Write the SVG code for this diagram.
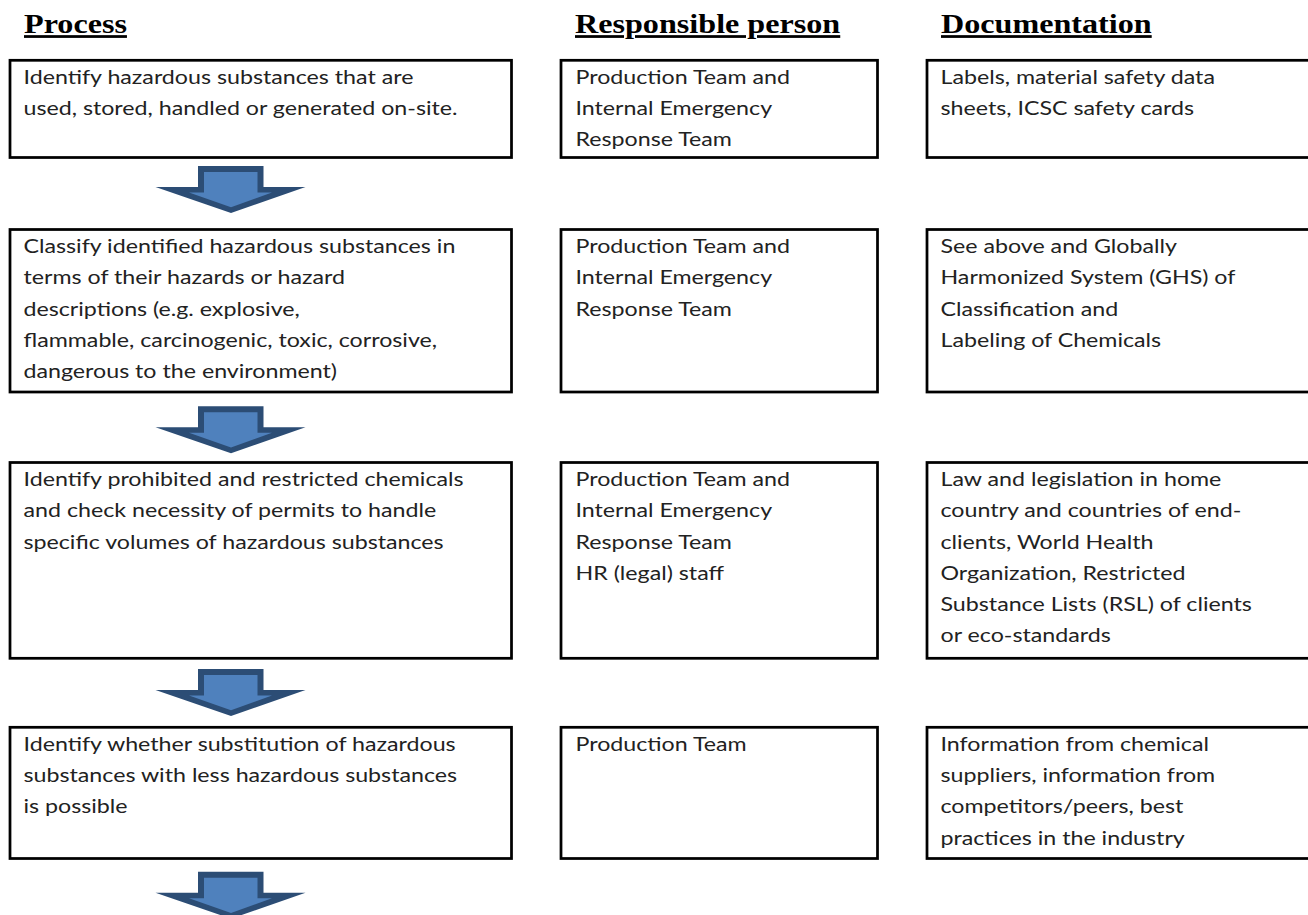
<svg xmlns="http://www.w3.org/2000/svg" xmlns:xlink="http://www.w3.org/1999/xlink" width="1308" height="915" viewBox="0 0 1308 915">
  <style>
    .hdr { font-family: "Liberation Serif", "Times New Roman", serif; font-weight: bold; font-size: 27.6px; fill: #000; text-decoration: underline; }
    .box { fill: #fff; stroke: #000; stroke-width: 2.75; }
    .txt { font-family: Lato, "Open Sans", "Liberation Sans", sans-serif; font-size: 19.5px; fill: #222; }
    .arrow-edge { fill: #2c4d75; }
    .arrow-body { fill: #4f81bd; }
  </style>
  <defs>
    <!-- block arrow pointing down; origin at top of stem -->
    <g id="downArrow">
      <polygon class="arrow-edge" points="198,0 263.5,0 263.5,21 305.5,21 231,47 155.5,21 198,21"/>
      <polygon class="arrow-body" points="204,6 257.5,6 257.5,26.5 272,26.5 231,41.3 189,26.5 204,26.5"/>
    </g>
  </defs>

  <rect width="1308" height="915" fill="#fff"/>

  <!-- column headings -->
  <g id="headings">
    <g transform="translate(24 33.3) scale(1.165 1)"><text class="hdr" x="0" y="0">Process</text></g>
    <g transform="translate(575 33.3) scale(1.165 1)"><text class="hdr" x="0" y="0">Responsible person</text></g>
    <g transform="translate(941 33.3) scale(1.165 1)"><text class="hdr" x="0" y="0">Documentation</text></g>
  </g>

  <!-- flow arrows between process steps -->
  <g id="connectors">
    <use xlink:href="#downArrow" x="0" y="166"/>
    <use xlink:href="#downArrow" x="0" y="406.3"/>
    <use xlink:href="#downArrow" x="0" y="669"/>
    <use xlink:href="#downArrow" x="0" y="871.7"/>
  </g>

  <!-- row 1 -->
  <g id="step1-process">
    <rect class="box" x="10" y="60.3" width="501.5" height="97.2"/>
    <g transform="translate(23.5 0) scale(1.19 1)">
      <text class="txt" x="0" y="83.8">Identify hazardous substances that are</text>
      <text class="txt" x="0" y="115.1">used, stored, handled or generated on-site.</text>
    </g>
  </g>
  <g id="step1-person">
    <rect class="box" x="561" y="60.3" width="316.5" height="97.2"/>
    <g transform="translate(575.5 0) scale(1.19 1)">
      <text class="txt" x="0" y="83.8">Production Team and</text>
      <text class="txt" x="0" y="115.1">Internal Emergency</text>
      <text class="txt" x="0" y="146.4">Response Team</text>
    </g>
  </g>
  <g id="step1-docs">
    <rect class="box" x="927" y="60.3" width="400" height="97.2"/>
    <g transform="translate(940.5 0) scale(1.19 1)">
      <text class="txt" x="0" y="83.8">Labels, material safety data</text>
      <text class="txt" x="0" y="115.1">sheets, ICSC safety cards</text>
    </g>
  </g>

  <!-- row 2 -->
  <g id="step2-process">
    <rect class="box" x="10" y="229.5" width="501.5" height="162.5"/>
    <g transform="translate(23.5 0) scale(1.19 1)">
      <text class="txt" x="0" y="253">Classify identified hazardous substances in</text>
      <text class="txt" x="0" y="284.3">terms of their hazards or hazard</text>
      <text class="txt" x="0" y="315.6">descriptions (e.g. explosive,</text>
      <text class="txt" x="0" y="346.9">flammable, carcinogenic, toxic, corrosive,</text>
      <text class="txt" x="0" y="378.2">dangerous to the environment)</text>
    </g>
  </g>
  <g id="step2-person">
    <rect class="box" x="561" y="229.5" width="316.5" height="162.5"/>
    <g transform="translate(575.5 0) scale(1.19 1)">
      <text class="txt" x="0" y="253">Production Team and</text>
      <text class="txt" x="0" y="284.3">Internal Emergency</text>
      <text class="txt" x="0" y="315.6">Response Team</text>
    </g>
  </g>
  <g id="step2-docs">
    <rect class="box" x="927" y="229.5" width="400" height="162.5"/>
    <g transform="translate(940.5 0) scale(1.19 1)">
      <text class="txt" x="0" y="253">See above and Globally</text>
      <text class="txt" x="0" y="284.3">Harmonized System (GHS) of</text>
      <text class="txt" x="0" y="315.6">Classification and</text>
      <text class="txt" x="0" y="346.9">Labeling of Chemicals</text>
    </g>
  </g>

  <!-- row 3 -->
  <g id="step3-process">
    <rect class="box" x="10" y="462.5" width="501.5" height="195.8"/>
    <g transform="translate(23.5 0) scale(1.19 1)">
      <text class="txt" x="0" y="486">Identify prohibited and restricted chemicals</text>
      <text class="txt" x="0" y="517.3">and check necessity of permits to handle</text>
      <text class="txt" x="0" y="548.6">specific volumes of hazardous substances</text>
    </g>
  </g>
  <g id="step3-person">
    <rect class="box" x="561" y="462.5" width="316.5" height="195.8"/>
    <g transform="translate(575.5 0) scale(1.19 1)">
      <text class="txt" x="0" y="486">Production Team and</text>
      <text class="txt" x="0" y="517.3">Internal Emergency</text>
      <text class="txt" x="0" y="548.6">Response Team</text>
      <text class="txt" x="0" y="579.9">HR (legal) staff</text>
    </g>
  </g>
  <g id="step3-docs">
    <rect class="box" x="927" y="462.5" width="400" height="195.8"/>
    <g transform="translate(940.5 0) scale(1.19 1)">
      <text class="txt" x="0" y="486">Law and legislation in home</text>
      <text class="txt" x="0" y="517.3">country and countries of end-</text>
      <text class="txt" x="0" y="548.6">clients, World Health</text>
      <text class="txt" x="0" y="579.9">Organization, Restricted</text>
      <text class="txt" x="0" y="611.2">Substance Lists (RSL) of clients</text>
      <text class="txt" x="0" y="642.5">or eco-standards</text>
    </g>
  </g>

  <!-- row 4 -->
  <g id="step4-process">
    <rect class="box" x="10" y="727.3" width="501.5" height="131.2"/>
    <g transform="translate(23.5 0) scale(1.19 1)">
      <text class="txt" x="0" y="750.8">Identify whether substitution of hazardous</text>
      <text class="txt" x="0" y="782.1">substances with less hazardous substances</text>
      <text class="txt" x="0" y="813.4">is possible</text>
    </g>
  </g>
  <g id="step4-person">
    <rect class="box" x="561" y="727.3" width="316.5" height="131.2"/>
    <g transform="translate(575.5 0) scale(1.19 1)">
      <text class="txt" x="0" y="750.8">Production Team</text>
    </g>
  </g>
  <g id="step4-docs">
    <rect class="box" x="927" y="727.3" width="400" height="131.2"/>
    <g transform="translate(940.5 0) scale(1.19 1)">
      <text class="txt" x="0" y="750.8">Information from chemical</text>
      <text class="txt" x="0" y="782.1">suppliers, information from</text>
      <text class="txt" x="0" y="813.4">competitors/peers, best</text>
      <text class="txt" x="0" y="844.7">practices in the industry</text>
    </g>
  </g>
</svg>
